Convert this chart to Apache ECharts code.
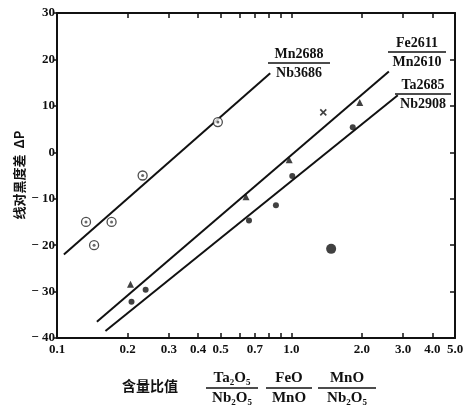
<!DOCTYPE html>
<html><head><meta charset="utf-8">
<script src="https://cdn.jsdelivr.net/npm/echarts@6/dist/echarts.min.js"></script>
<style>html,body{margin:0;padding:0;background:#fff}#c{width:470px;height:409px}</style>
</head><body><div id="c"></div>
<script>
// ---- data ----
const xLabelValues = [0.1, 0.2, 0.3, 0.4, 0.5, 0.7, 1, 2, 3, 4, 5];
const xTickValues = [0.2, 0.3, 0.4, 0.5, 0.6, 0.7, 0.8, 0.9, 1, 2, 3, 4];
const yMin = -40, yMax = 30, yStep = 10;

const mnNbPoints = [[0.133, -15], [0.144, -20], [0.171, -15], [0.232, -5], [0.486, 6.5]];
const mnNbLine = [[0.107, -22], [0.813, 17]];

const feMnPoints = [[0.206, -28.4], [0.641, -9.6], [0.98, -1.6], [1.96, 10.7]];
const feMnCross = [[1.37, 8.6]];
const feMnLine = [[0.148, -36.5], [2.61, 17.4]];

const taNbPoints = [[0.208, -32.2], [0.239, -29.6], [0.66, -14.7], [0.86, -11.4], [1.01, -5.1], [1.83, 5.4]];
const taNbOutlier = [[1.48, -20.8]];
const taNbLine = [[0.161, -38.5], [2.85, 12.3]];

const yAxisName = '线对黑度差  ΔP';
const xAxisName = '含量比值';
const xFractions = [['Ta₂O₅', 'Nb₂O₅'], ['FeO', 'MnO'], ['MnO', 'Nb₂O₅']];
const lineLabels = [['Mn2688', 'Nb3686'], ['Fe2611', 'Mn2610'], ['Ta2685', 'Nb2908']];

// ---- chart ----
const FONT = '"Liberation Serif", "DejaVu Serif", serif';
const CJK = '"Noto Sans CJK SC", sans-serif';
const chart = echarts.init(document.getElementById('c'), null, {renderer: 'canvas'});

function fraction(cx, yTop, num, den, halfW, fs) {
  return {
    type: 'group',
    children: [
      {type: 'text', style: {text: num, x: cx, y: yTop, textAlign: 'center', textVerticalAlign: 'top', font: 'bold ' + fs + 'px ' + FONT, fill: '#111'}},
      {type: 'line', shape: {x1: cx - halfW, y1: yTop + fs + 2, x2: cx + halfW, y2: yTop + fs + 2}, style: {stroke: '#111', lineWidth: 1.4}},
      {type: 'text', style: {text: den, x: cx, y: yTop + fs + 5, textAlign: 'center', textVerticalAlign: 'top', font: 'bold ' + fs + 'px ' + FONT, fill: '#111'}}
    ]
  };
}

const axisLine = {show: true, onZero: false, lineStyle: {color: '#111', width: 2}};
const option = {
  animation: false,
  backgroundColor: '#fff',
  grid: {left: 57, right: 15, top: 13, bottom: 71},
  xAxis: [{
    type: 'log', logBase: 10, min: 0.1, max: 5, position: 'bottom',
    axisLine: axisLine,
    axisTick: {show: true, inside: true, length: 5, customValues: xTickValues, lineStyle: {color: '#111', width: 1.5}},
    minorTick: {show: false},
    splitLine: {show: false},
    axisLabel: {customValues: xLabelValues, formatter: v => Number(v).toFixed(1), color: '#111', fontFamily: FONT, fontWeight: 'bold', fontSize: 13, margin: 5}
  }, {
    type: 'log', logBase: 10, min: 0.1, max: 5, position: 'top',
    axisLine: axisLine,
    axisTick: {show: true, inside: true, length: 5, customValues: xTickValues, lineStyle: {color: '#111', width: 1.5}},
    splitLine: {show: false},
    axisLabel: {show: false}
  }],
  yAxis: [{
    type: 'value', min: yMin, max: yMax, interval: yStep, position: 'left',
    axisLine: axisLine,
    axisTick: {show: true, inside: false, length: 3, lineStyle: {color: '#111', width: 1.5}},
    splitLine: {show: false},
    axisLabel: {formatter: v => v < 0 ? '− ' + (-v) : String(v), color: '#111', fontFamily: FONT, fontWeight: 'bold', fontSize: 13, margin: 2}
  }, {
    type: 'value', min: yMin, max: yMax, interval: yStep, position: 'right',
    axisLine: axisLine,
    axisTick: {show: true, inside: true, length: 5, lineStyle: {color: '#111', width: 1.5}},
    splitLine: {show: false},
    axisLabel: {show: false}
  }],
  series: [
    {type: 'line', data: mnNbLine, symbol: 'none', lineStyle: {color: '#111', width: 2}},
    {type: 'line', data: feMnLine, symbol: 'none', lineStyle: {color: '#111', width: 2}},
    {type: 'line', data: taNbLine, symbol: 'none', lineStyle: {color: '#111', width: 2}},
    {type: 'scatter', data: mnNbPoints, symbol: 'circle', symbolSize: 9, itemStyle: {color: '#fff', borderColor: '#222', borderWidth: 1.3}, z: 5},
    {type: 'scatter', data: mnNbPoints, symbol: 'circle', symbolSize: 3, itemStyle: {color: '#444'}, z: 6},
    {type: 'scatter', data: feMnPoints, symbol: 'triangle', symbolSize: 7, itemStyle: {color: '#111'}, z: 5},
    {type: 'scatter', data: feMnCross, symbol: 'path://M0,0L10,10M10,0L0,10', symbolSize: 6, itemStyle: {color: 'none', borderColor: '#111', borderWidth: 1.6}, z: 5},
    {type: 'scatter', data: taNbPoints, symbol: 'circle', symbolSize: 6, itemStyle: {color: '#111'}, z: 5},
    {type: 'scatter', data: taNbOutlier, symbol: 'circle', symbolSize: 10, itemStyle: {color: '#111'}, z: 5}
  ],
  graphic: [
    {type: 'text', x: 19, y: 175, rotation: Math.PI / 2, style: {text: yAxisName, textAlign: 'center', textVerticalAlign: 'middle', font: 'bold 13px ' + CJK, fill: '#111'}},
    {type: 'text', style: {text: xAxisName, x: 122, y: 386, textVerticalAlign: 'middle', font: 'bold 14px ' + CJK, fill: '#111'}},
    fraction(232, 371, xFractions[0][0], xFractions[0][1], 26, 15),
    fraction(289, 371, xFractions[1][0], xFractions[1][1], 23, 15),
    fraction(347, 371, xFractions[2][0], xFractions[2][1], 29, 15),
    fraction(299, 47, lineLabels[0][0], lineLabels[0][1], 31, 14),
    fraction(417, 36, lineLabels[1][0], lineLabels[1][1], 29, 14),
    fraction(423, 78, lineLabels[2][0], lineLabels[2][1], 28, 14)
  ]
};
chart.setOption(option);
</script>
</body></html>
